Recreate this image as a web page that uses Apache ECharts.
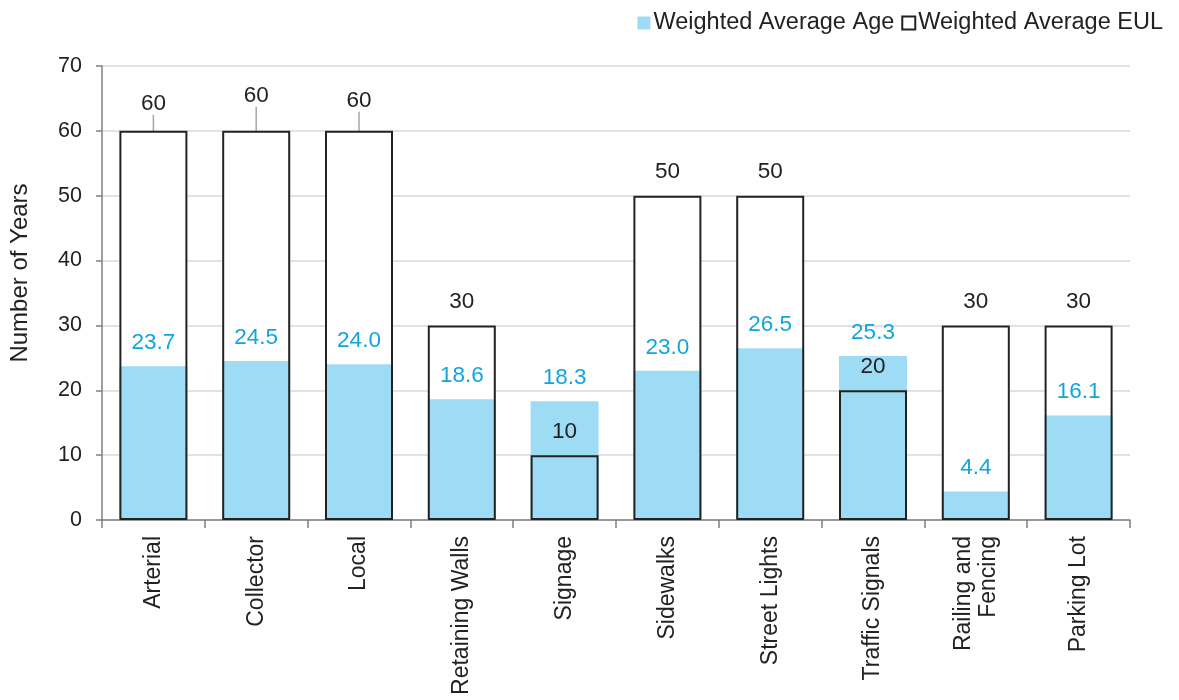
<!DOCTYPE html>
<html>
<head>
<meta charset="utf-8">
<script src="https://cdn.jsdelivr.net/npm/echarts@6/dist/echarts.min.js"></script>
<style>
html,body{margin:0;padding:0;background:#fff;}
#chart{width:1179px;height:700px;}
</style>
</head>
<body>
<div id="chart"></div>
<script>
var categories = ['Arterial','Collector','Local','Retaining Walls','Signage','Sidewalks','Street Lights','Traffic Signals','Railing and\nFencing','Parking Lot'];
var ageValues = [23.7, 24.5, 24.0, 18.6, 18.3, 23.0, 26.5, 25.3, 4.4, 16.1];
var eulValues = [60, 60, 60, 30, 10, 50, 50, 20, 30, 30];
var yTicks = [0, 10, 20, 30, 40, 50, 60, 70];
var eulLabelLift = [-4, -12, -7, 0, 0, 0, 0, 0, 0, 0];

var FONT = 'Liberation Sans';
var chart = echarts.init(document.getElementById('chart'));
var BW = 68;
var eulData = eulValues.map(function (v, i) {
  return {value: v, labelLine: {show: eulLabelLift[i] !== 0}};
});
chart.setOption({
  animation: false,
  textStyle: {fontFamily: FONT},
  legend: {
    right: 11, top: 6,
    itemWidth: 13, itemHeight: 13, itemGap: 7,
    icon: 'rect',
    textStyle: {fontSize: 23.5, color: '#222', fontFamily: FONT, padding: [0, 0, 0, -2]},
    data: ['Weighted Average Age', 'Weighted Average EUL']
  },
  grid: {left: 102, right: 49, top: 66, bottom: 180, containLabel: false},
  xAxis: {
    type: 'category',
    data: categories,
    axisLine: {lineStyle: {color: '#7f7f7f', width: 1.5}},
    axisTick: {show: true, length: 8, lineStyle: {color: '#7f7f7f', width: 1.5}},
    axisLabel: {rotate: 90, fontSize: 23, color: '#222', margin: 16, fontFamily: FONT, lineHeight: 25}
  },
  yAxis: {
    type: 'value',
    min: yTicks[0], max: yTicks[yTicks.length - 1], interval: 10,
    name: 'Number of Years',
    nameLocation: 'middle', nameRotate: 90, nameGap: 70,
    nameTextStyle: {fontSize: 24, color: '#222', fontFamily: FONT, padding: [0, 0, 0, 40]},
    axisLine: {show: true, lineStyle: {color: '#7f7f7f', width: 1.5}},
    axisTick: {show: true, length: 6, lineStyle: {color: '#7f7f7f', width: 1.5}},
    axisLabel: {fontSize: 21.5, color: '#222', margin: 20, fontFamily: FONT},
    splitLine: {lineStyle: {color: '#d9d9d9', width: 1.5}}
  },
  series: [
    {
      name: 'eulFill', type: 'bar', data: eulValues, barWidth: BW, barGap: '-100%',
      itemStyle: {color: '#ffffff'}, silent: true, z: 2
    },
    {
      name: 'Weighted Average Age', type: 'bar', data: ageValues, barWidth: BW, barGap: '-100%',
      itemStyle: {color: '#9edcf6'}, z: 3,
      label: {
        show: true, position: 'top', distance: 12, fontSize: 22.5, color: '#12a5dd', fontFamily: FONT,
        formatter: function (p) { return p.value.toFixed(1); }
      }
    },
    {
      name: 'Weighted Average EUL', type: 'bar', data: eulData, barWidth: BW, barGap: '-100%',
      itemStyle: {color: 'rgba(255,255,255,0)', borderColor: '#222', borderWidth: 2}, z: 4,
      label: {
        show: true, position: 'top', distance: 12, fontSize: 22.5, color: '#222', fontFamily: FONT
      },
      labelLine: {show: false, lineStyle: {color: '#a6a6a6', width: 1.5}},
      labelLayout: function (p) {
        var d = eulLabelLift[p.dataIndex];
        return d ? {dy: d} : {};
      }
    }
  ]
});
</script>
</body>
</html>
